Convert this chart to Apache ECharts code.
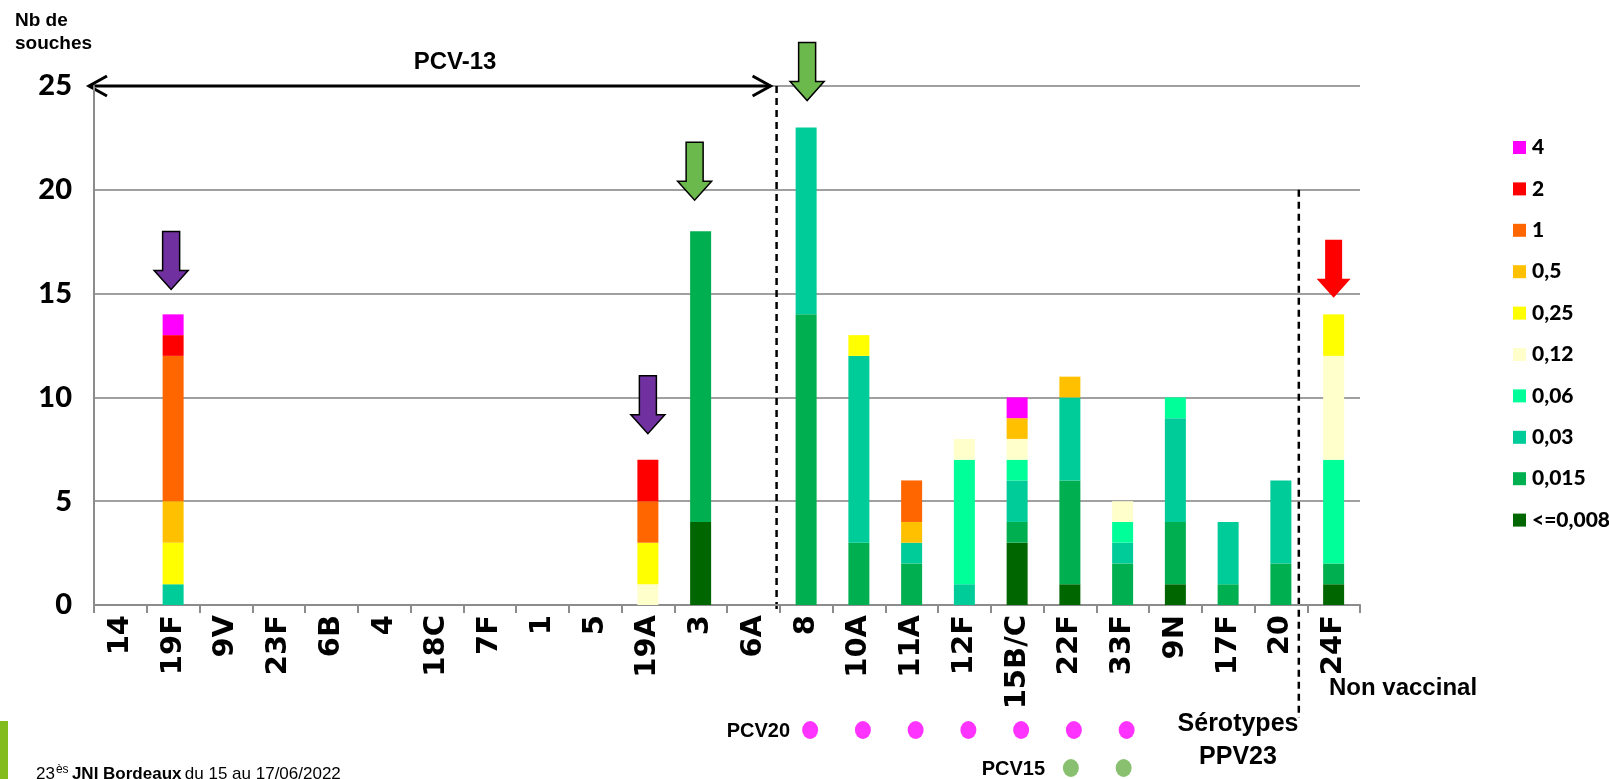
<!DOCTYPE html>
<html>
<head>
<meta charset="utf-8">
<script src="https://cdn.jsdelivr.net/npm/echarts@6/dist/echarts.min.js"></script>
<style>
  html, body { margin: 0; padding: 0; background: #fff; }
  #chart { width: 1609px; height: 779px; }
</style>
</head>
<body>
<div id="chart"></div>
<script>
// serotypes on the x axis
const categories = ["14", "19F", "9V", "23F", "6B", "4", "18C", "7F", "1", "5", "19A", "3", "6A",
  "8", "10A", "11A", "12F", "15B/C", "22F", "33F", "9N", "17F", "20", "24F"];

// CMI levels, bottom of the stack first
const levels = ["<=0,008", "0,015", "0,03", "0,06", "0,12", "0,25", "0,5", "1", "2", "4"];
const levelColors = ["#006600", "#00B050", "#00CC99", "#00FF99", "#FFFFCC", "#FFFF00", "#FFC000", "#FF6600", "#FF0000", "#FF00FF"];

// counts per serotype, same order as categories
const cmi0008 = [0, 0, 0, 0, 0, 0, 0, 0, 0, 0, 0, 4, 0, 0, 0, 0, 0, 3, 1, 0, 1, 0, 0, 1];
const cmi0015 = [0, 0, 0, 0, 0, 0, 0, 0, 0, 0, 0, 14, 0, 14, 3, 2, 0, 1, 5, 2, 3, 1, 2, 1];
const cmi003  = [0, 1, 0, 0, 0, 0, 0, 0, 0, 0, 0, 0, 0, 9, 9, 1, 1, 2, 4, 1, 5, 3, 4, 0];
const cmi006  = [0, 0, 0, 0, 0, 0, 0, 0, 0, 0, 0, 0, 0, 0, 0, 0, 6, 1, 0, 1, 1, 0, 0, 5];
const cmi012  = [0, 0, 0, 0, 0, 0, 0, 0, 0, 0, 1, 0, 0, 0, 0, 0, 1, 1, 0, 1, 0, 0, 0, 5];
const cmi025  = [0, 2, 0, 0, 0, 0, 0, 0, 0, 0, 2, 0, 0, 0, 1, 0, 0, 0, 0, 0, 0, 0, 0, 2];
const cmi05   = [0, 2, 0, 0, 0, 0, 0, 0, 0, 0, 0, 0, 0, 0, 0, 1, 0, 1, 1, 0, 0, 0, 0, 0];
const cmi1    = [0, 7, 0, 0, 0, 0, 0, 0, 0, 0, 2, 0, 0, 0, 0, 2, 0, 0, 0, 0, 0, 0, 0, 0];
const cmi2    = [0, 1, 0, 0, 0, 0, 0, 0, 0, 0, 2, 0, 0, 0, 0, 0, 0, 0, 0, 0, 0, 0, 0, 0];
const cmi4    = [0, 1, 0, 0, 0, 0, 0, 0, 0, 0, 0, 0, 0, 0, 0, 0, 0, 1, 0, 0, 0, 0, 0, 0];
const levelData = [cmi0008, cmi0015, cmi003, cmi006, cmi012, cmi025, cmi05, cmi1, cmi2, cmi4];

// vaccine coverage dots under the axis
const pcv20 = ["8", "10A", "11A", "12F", "15B/C", "22F", "33F"];
const pcv15 = ["22F", "33F"];

// arrows: serotype, value at the tip, colour
const arrows = [
  { cat: "19F", tip: 15.2, fill: "#7030A0", stroke: "#000", dx: -2 },
  { cat: "19A", tip: 8.25, fill: "#7030A0", stroke: "#000", dx: 0 },
  { cat: "3", tip: 19.5, fill: "#6BB84C", stroke: "#000", dx: -6 },
  { cat: "8", tip: 24.3, fill: "#6BB84C", stroke: "#000", dx: 1 },
  { cat: "24F", tip: 14.8, fill: "#FF0000", stroke: null, dx: 0 }
];

const arial = "'Liberation Sans', Arial, sans-serif";

const chart = echarts.init(document.getElementById("chart"));

const barSeries = levels.map((name, i) => ({
  name: name,
  type: "bar",
  stack: "cmi",
  barWidth: 21,
  xAxisIndex: 0,
  yAxisIndex: 0,
  itemStyle: { color: levelColors[i] },
  emphasis: { disabled: true },
  data: levelData[i].map((v) => (v === 0 ? null : v))
}));

chart.setOption({
  animation: false,
  grid: [
    { left: 94, right: 249, top: 86, bottom: 174, outerBoundsMode: "none" },
    { left: 94, right: 249, top: 730, height: 38, outerBoundsMode: "none" }
  ],
  legend: {
    orient: "vertical",
    left: 1508,
    top: 132,
    icon: "rect",
    itemWidth: 13,
    itemHeight: 13,
    itemGap: 20.4,
    selectedMode: false,
    data: levels.slice().reverse(),
    textStyle: { fontFamily: "Lato", fontWeight: 900, fontSize: 21, lineHeight: 20, color: "#000", padding: [0, 0, 0, 1] }
  },
  xAxis: [
    {
      type: "category",
      gridIndex: 0,
      data: categories,
      axisLine: { lineStyle: { color: "#8c8c8c", width: 2 } },
      axisTick: { show: true, length: 8, lineStyle: { color: "#8c8c8c", width: 2 } },
      axisLabel: {
        interval: 0,
        rotate: 90,
        margin: 10,
        color: "#000",
        fontFamily: "DejaVu Sans",
        fontWeight: "bold",
        fontSize: 29
      }
    },
    { type: "category", gridIndex: 1, data: categories, show: false }
  ],
  yAxis: [
    {
      type: "value",
      gridIndex: 0,
      min: 0,
      max: 25,
      interval: 5,
      axisLine: { show: true, lineStyle: { color: "#8c8c8c", width: 2 } },
      axisTick: { show: false },
      splitLine: { lineStyle: { color: "#a0a0a0", width: 2 } },
      axisLabel: { margin: 22, color: "#000", fontFamily: "Lato", fontWeight: 900, fontSize: 29 }
    },
    { type: "value", gridIndex: 1, min: 0, max: 1, show: false }
  ],
  series: barSeries.concat([
    {
      name: "PCV20",
      type: "scatter",
      xAxisIndex: 1,
      yAxisIndex: 1,
      symbol: "circle",
      symbolSize: [16, 18],
      symbolOffset: [4, 0],
      itemStyle: { color: "#FF00FF" },
      data: pcv20.map((c) => [c, 1])
    },
    {
      name: "PCV15",
      type: "scatter",
      xAxisIndex: 1,
      yAxisIndex: 1,
      symbol: "circle",
      symbolSize: [16, 18],
      symbolOffset: [1, 0],
      itemStyle: { color: "#6AB04C" },
      data: pcv15.map((c) => [c, 0])
    }
  ])
});

// annotations placed from the axes
const px = (cat, val) => chart.convertToPixel({ xAxisIndex: 0, yAxisIndex: 0 }, [cat, val]);
const band = px("19F", 0)[0] - px("14", 0)[0];
const y25 = px("14", 25)[1];
const y20 = px("14", 20)[1];
const y0 = px("14", 0)[1];
const gridLeft = px("14", 0)[0] - band / 2;
const dash1 = px("6A", 0)[0] + band * 0.44;
const dash2 = px("20", 0)[0] + band * 0.34;

const graphics = [];

function text(str, x, y, size, weight, align, vAlign) {
  graphics.push({
    type: "text",
    style: {
      text: str, x: x, y: y, fill: "#000",
      fontSize: size, fontWeight: weight, fontFamily: arial,
      textAlign: align, textVerticalAlign: vAlign, align: align, verticalAlign: vAlign
    }
  });
}

// dashed separators
graphics.push({
  type: "line",
  shape: { x1: dash1, y1: y25, x2: dash1, y2: y0 + 8 },
  style: { stroke: "#000", lineWidth: 2.5, lineDash: [7, 5] }
});
graphics.push({
  type: "line",
  shape: { x1: dash2, y1: y20, x2: dash2, y2: 718 },
  style: { stroke: "#000", lineWidth: 2.5, lineDash: [7, 5] }
});

// PCV-13 double arrow
const ax0 = gridLeft - 5;
const ax1 = dash1 - 6;
graphics.push({ type: "polyline", shape: { points: [[ax0, y25], [ax1, y25]] }, style: { stroke: "#000", lineWidth: 3 } });
graphics.push({ type: "polyline", shape: { points: [[ax0 + 18, y25 - 10], [ax0, y25], [ax0 + 18, y25 + 10]] }, style: { stroke: "#000", lineWidth: 3, fill: null } });
graphics.push({ type: "polyline", shape: { points: [[ax1 - 18, y25 - 10], [ax1, y25], [ax1 - 18, y25 + 10]] }, style: { stroke: "#000", lineWidth: 3, fill: null } });
text("PCV-13", 455, 62, 24, "bold", "center", "middle");

// block arrows over the bars
arrows.forEach((a) => {
  const p = px(a.cat, a.tip);
  const tx = p[0] + a.dx;
  const ty = p[1];
  const h = 58, hh = 19, sw = 8.5, hw = 17;
  graphics.push({
    type: "polygon",
    shape: {
      points: [[tx - sw, ty - h], [tx + sw, ty - h], [tx + sw, ty - hh], [tx + hw, ty - hh],
        [tx, ty], [tx - hw, ty - hh], [tx - sw, ty - hh]]
    },
    style: { fill: a.fill, stroke: a.stroke, lineWidth: a.stroke ? 1.5 : 0 }
  });
});

// texts
text("Nb de", 15, 21, 19, "bold", "left", "middle");
text("souches", 15, 44, 19, "bold", "left", "middle");
text("Non vaccinal", 1329, 688, 24, "bold", "left", "middle");
text("Sérotypes", 1238, 724, 25, "bold", "center", "middle");
text("PPV23", 1238, 757, 25, "bold", "center", "middle");
text("PCV20", 790, 731, 20, "bold", "right", "middle");
text("PCV15", 1045, 769, 20, "bold", "right", "middle");

// footer
graphics.push({ type: "rect", shape: { x: 0, y: 721, width: 8, height: 58 }, style: { fill: "#82BC1E" } });
graphics.push({
  type: "text",
  style: {
    x: 36, y: 764,
    text: "{n|23}{s|ès} {b|JNI Bordeaux} {n|du 15 au 17/06/2022}",
    align: "left", verticalAlign: "top", textAlign: "left", textVerticalAlign: "top",
    fill: "#000",
    rich: {
      n: { fontSize: 17, fontFamily: arial, fill: "#000" },
      s: { fontSize: 12, fontFamily: arial, fill: "#000", padding: [0, 0, 8, 1] },
      b: { fontSize: 17, fontFamily: arial, fontWeight: "bold", fill: "#000" }
    }
  }
});

chart.setOption({ graphic: graphics });
</script>
</body>
</html>
